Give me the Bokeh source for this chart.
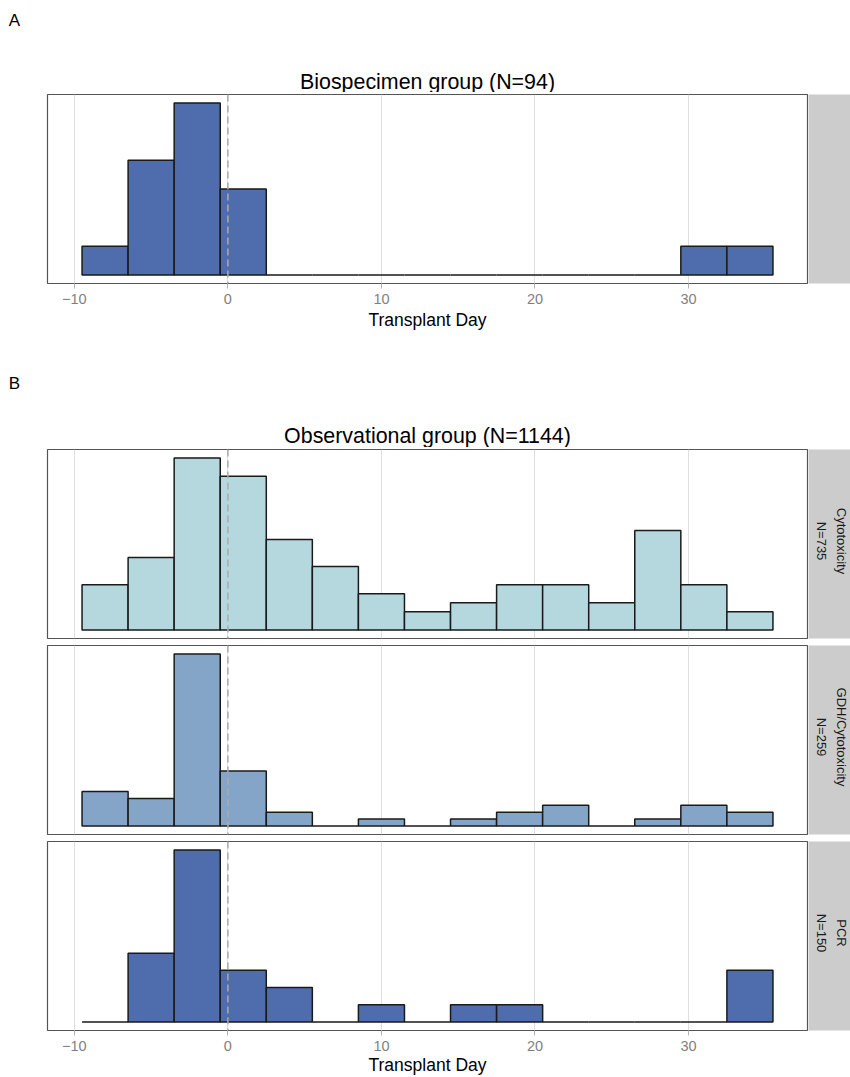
import math
from bokeh.plotting import figure
from bokeh.layouts import column, row
from bokeh.models import Range1d, FixedTicker, Grid, Span, Label, ColumnDataSource
from bokeh.embed import file_html
from bokeh.resources import INLINE

# ---------------- data ----------------
bin_centers = [-8, -5, -2, 1, 4, 7, 10, 13, 16, 19, 22, 25, 28, 31, 34]
bin_width = 3
biospecimen_counts = [1, 4, 6, 3, 0, 0, 0, 0, 0, 0, 0, 0, 0, 1, 1]
cytotoxicity_counts = [5, 8, 19, 17, 10, 7, 4, 2, 3, 5, 5, 3, 11, 5, 2]
gdh_counts = [5, 4, 25, 8, 2, 0, 1, 0, 1, 2, 3, 0, 1, 3, 2]
pcr_counts = [0, 4, 10, 3, 2, 0, 1, 0, 1, 1, 0, 0, 0, 0, 3]

tick_values = [-10, 0, 10, 20, 30]
tick_labels = ["\u221210", "0", "10", "20", "30"]

title_a = "Biospecimen group (N=94)"
title_b = "Observational group (N=1144)"
facet_names = ["Cytotoxicity", "GDH/Cytotoxicity", "PCR"]
facet_n = ["N=735", "N=259", "N=150"]
axis_title = "Transplant Day"

color_bio = "#4F6CAC"
color_cyto = "#B5D8DF"
color_gdh = "#84A5C8"
color_pcr = "#4F6CAC"

FONT = "Liberation Sans"

# ---------------- geometry (page px) ----------------
XR = (-11.75, 37.75)
FRAME_L, FRAME_R = 47, 807
MAIN_W = 808       # page x 0 .. 808
STRIP_W = 42       # page x 808 .. 850
TOTAL_W = MAIN_W + STRIP_W
FRAME_H = 189
CENTER_X = (FRAME_L + FRAME_R) / 2


def make_header(height, texts):
    h = figure(width=TOTAL_W, height=height,
               x_range=Range1d(0, TOTAL_W), y_range=Range1d(height, 0),
               output_backend="svg", toolbar_location=None,
               x_axis_location=None, y_axis_location=None,
               min_border_left=0, min_border_right=0,
               min_border_top=0, min_border_bottom=0)
    h.grid.visible = False
    h.outline_line_color = None
    h.background_fill_color = "white"
    h.border_fill_color = "white"
    for txt, x, y, size in texts:
        h.add_layout(Label(x=x, y=y, text=txt, text_align="center",
                           text_baseline="middle", text_font=FONT,
                           text_font_size=size, text_color="#000000"))
    return h


def make_main(counts, color, top_b, bot_b, axis=False, label_standoff=1):
    ymax = max(counts)
    y0, y1 = -0.05 * ymax, 1.05 * ymax
    p = figure(width=MAIN_W, height=top_b + FRAME_H + bot_b,
               x_range=Range1d(*XR), y_range=Range1d(y0, y1),
               output_backend="svg", toolbar_location=None,
               x_axis_location="below" if axis else None, y_axis_location=None,
               min_border_left=FRAME_L, min_border_right=MAIN_W - FRAME_R,
               min_border_top=top_b, min_border_bottom=bot_b)
    p.grid.visible = False
    p.background_fill_color = "white"
    p.border_fill_color = "white"
    p.outline_line_color = "#555555"
    p.outline_line_width = 1.2
    p.add_layout(Grid(dimension=0, ticker=FixedTicker(ticks=tick_values),
                      grid_line_color="#DEDEDE", grid_line_width=1))
    src = ColumnDataSource(dict(
        left=[c - bin_width / 2 for c in bin_centers],
        right=[c + bin_width / 2 for c in bin_centers],
        top=counts,
        bottom=[0] * len(counts)))
    p.quad(left="left", right="right", top="top", bottom="bottom", source=src,
           fill_color=color, line_color="#1A1A1A", line_width=1.5)
    p.add_layout(Span(location=0, dimension="height", line_color="#AAAAAA",
                      line_dash="7 4", line_width=1.5))
    if axis:
        ax = p.xaxis[0]
        ax.ticker = FixedTicker(ticks=tick_values)
        ax.major_label_overrides = {v: s for v, s in zip(tick_values, tick_labels)}
        ax.axis_line_color = None
        ax.major_tick_line_color = "#B3B3B3"
        ax.major_tick_line_width = 1
        ax.major_tick_out = 5
        ax.major_tick_in = 0
        ax.minor_tick_line_color = None
        ax.major_label_text_font = FONT
        ax.major_label_text_font_size = "14.5px"
        ax.major_label_text_color = "#7F7F7F"
        ax.major_label_standoff = 5
        ax.axis_label = axis_title
        ax.axis_label_text_font = FONT
        ax.axis_label_text_font_size = "17.5px"
        ax.axis_label_text_font_style = "normal"
        ax.axis_label_text_color = "#000000"
        ax.axis_label_standoff = label_standoff
    return p


def make_strip(top_b, bot_b, lines=None):
    s = figure(width=STRIP_W, height=top_b + FRAME_H + bot_b,
               x_range=Range1d(0, STRIP_W), y_range=Range1d(0, FRAME_H),
               output_backend="svg", toolbar_location=None,
               x_axis_location=None, y_axis_location=None,
               min_border_left=0, min_border_right=0,
               min_border_top=top_b, min_border_bottom=bot_b)
    s.grid.visible = False
    s.background_fill_color = "#CCCCCC"
    s.border_fill_color = "white"
    s.outline_line_color = None
    if lines:
        for txt, xx in lines:
            s.add_layout(Label(x=xx, y=FRAME_H / 2 + 3, text=txt, angle=-math.pi / 2,
                               text_align="center", text_baseline="middle",
                               text_font=FONT, text_font_size="13px",
                               text_color="#1A1A1A"))
    return s


# ---------------- panel A ----------------
# header: page y 0 .. 92
hA = make_header(92, [("A", 14, 20, "17px"), (title_a, CENTER_X, 81, "21.4px")])
# row A: page y 92 .. 372, frame 94 .. 283
pA = make_main(biospecimen_counts, color_bio, 2, 89, axis=True, label_standoff=3)
sA = make_strip(2, 89)

# ---------------- panel B ----------------
# header: page y 372 .. 447
hB = make_header(75, [("B", 14, 383 - 372, "17px"), (title_b, CENTER_X, 435.5 - 372, "21.4px")])
# facet 1: page 447 .. 641, frame 449 .. 638
pB1 = make_main(cytotoxicity_counts, color_cyto, 2, 3)
sB1 = make_strip(2, 3, [(facet_n[0], 12.5), (facet_names[0], 33)])
# facet 2: page 641 .. 837, frame 645 .. 834
pB2 = make_main(gdh_counts, color_gdh, 4, 3)
sB2 = make_strip(4, 3, [(facet_n[1], 12.5), (facet_names[1], 33)])
# facet 3: page 837 .. 1077, frame 841 .. 1030
pB3 = make_main(pcr_counts, color_pcr, 4, 47, axis=True, label_standoff=1)
sB3 = make_strip(4, 47, [(facet_n[2], 12.5), (facet_names[2], 33)])

layout = column(hA, row(pA, sA), hB, row(pB1, sB1), row(pB2, sB2), row(pB3, sB3))

open("out.html", "w").write(file_html(layout, INLINE))
